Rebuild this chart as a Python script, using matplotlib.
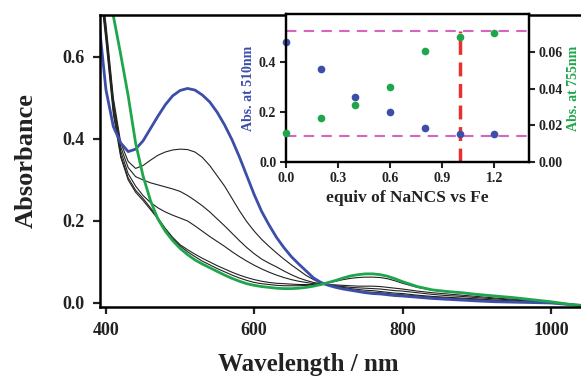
import matplotlib
matplotlib.use("Agg")
import matplotlib.pyplot as plt
import numpy as np

plt.rcParams['font.family'] = ['Liberation Serif', 'DejaVu Serif']
plt.rcParams['font.weight'] = 'bold'

## spectra (wavelength in nm, absorbance)
wavelength = [392, 400, 410, 420, 430, 440, 450, 460, 470, 480, 490, 500, 510, 520,
              530, 540, 550, 560, 570, 580, 590, 600, 610, 620, 630, 640, 650, 660,
              670, 680, 690, 700, 710, 720, 730, 740, 750, 760, 770, 780, 790, 800,
              820, 840, 860, 880, 900, 925, 950, 975, 1000, 1020, 1043]

abs_0eq = [0.66, 0.52, 0.43, 0.39, 0.369, 0.375, 0.395, 0.425, 0.455, 0.483, 0.505, 0.518, 0.523, 0.519,
           0.507, 0.490, 0.465, 0.434, 0.398, 0.356, 0.310, 0.264, 0.223, 0.190, 0.160, 0.135, 0.113, 0.095,
           0.078, 0.061, 0.050, 0.043, 0.038, 0.034, 0.031, 0.028, 0.025, 0.023, 0.022, 0.020, 0.018, 0.017,
           0.014, 0.011, 0.009, 0.007, 0.005, 0.003, 0.002, 0.001, 0.000, -0.003, -0.006]

abs_02eq = [0.80, 0.68, 0.50, 0.39, 0.345, 0.328, 0.335, 0.348, 0.360, 0.368, 0.373, 0.375, 0.374, 0.368,
            0.355, 0.335, 0.310, 0.285, 0.255, 0.225, 0.198, 0.175, 0.155, 0.138, 0.122, 0.107, 0.093, 0.080,
            0.067, 0.057, 0.048, 0.043, 0.040, 0.036, 0.033, 0.030, 0.027, 0.026, 0.025, 0.023, 0.021, 0.020,
            0.017, 0.014, 0.012, 0.010, 0.008, 0.006, 0.004, 0.002, 0.000, -0.003, -0.006]

abs_04eq = [0.80, 0.67, 0.49, 0.38, 0.33, 0.308, 0.300, 0.293, 0.288, 0.283, 0.278, 0.272, 0.262, 0.250,
            0.237, 0.222, 0.205, 0.188, 0.170, 0.152, 0.135, 0.120, 0.107, 0.097, 0.088, 0.078, 0.069, 0.061,
            0.055, 0.050, 0.047, 0.044, 0.041, 0.038, 0.035, 0.033, 0.031, 0.030, 0.028, 0.026, 0.024, 0.023,
            0.019, 0.016, 0.014, 0.012, 0.010, 0.007, 0.005, 0.003, 0.001, -0.002, -0.006]

abs_06eq = [0.79, 0.66, 0.48, 0.37, 0.315, 0.285, 0.262, 0.245, 0.232, 0.222, 0.214, 0.207, 0.200, 0.188,
            0.175, 0.162, 0.150, 0.138, 0.125, 0.113, 0.102, 0.092, 0.083, 0.075, 0.068, 0.062, 0.057, 0.053,
            0.050, 0.047, 0.046, 0.044, 0.042, 0.040, 0.038, 0.037, 0.036, 0.035, 0.034, 0.032, 0.030, 0.029,
            0.025, 0.021, 0.018, 0.016, 0.013, 0.010, 0.007, 0.004, 0.001, -0.002, -0.006]

abs_08eq = [0.78, 0.65, 0.47, 0.36, 0.305, 0.275, 0.255, 0.232, 0.208, 0.182, 0.160, 0.142, 0.130, 0.119,
            0.109, 0.100, 0.091, 0.083, 0.075, 0.068, 0.062, 0.057, 0.053, 0.050, 0.048, 0.047, 0.046, 0.045,
            0.045, 0.045, 0.045, 0.045, 0.044, 0.043, 0.042, 0.041, 0.041, 0.041, 0.040, 0.038, 0.036, 0.034,
            0.029, 0.025, 0.022, 0.019, 0.016, 0.012, 0.009, 0.006, 0.002, -0.002, -0.006]

abs_10eq = [0.77, 0.64, 0.46, 0.355, 0.30, 0.27, 0.25, 0.228, 0.205, 0.178, 0.157, 0.139, 0.125, 0.113,
            0.102, 0.093, 0.084, 0.076, 0.068, 0.061, 0.055, 0.050, 0.047, 0.045, 0.043, 0.042, 0.042, 0.042,
            0.043, 0.044, 0.046, 0.049, 0.053, 0.057, 0.060, 0.062, 0.063, 0.063, 0.062, 0.059, 0.054, 0.048,
            0.038, 0.031, 0.027, 0.024, 0.020, 0.016, 0.012, 0.008, 0.003, -0.002, -0.006]

abs_12eq = [0.88, 0.80, 0.70, 0.605, 0.505, 0.39, 0.31, 0.25, 0.205, 0.175, 0.152, 0.133, 0.118, 0.105,
            0.095, 0.086, 0.077, 0.068, 0.060, 0.053, 0.047, 0.043, 0.040, 0.038, 0.036, 0.035, 0.035, 0.036,
            0.038, 0.041, 0.045, 0.050, 0.055, 0.061, 0.066, 0.069, 0.071, 0.071, 0.069, 0.065, 0.059, 0.052,
            0.040, 0.032, 0.028, 0.025, 0.021, 0.017, 0.013, 0.008, 0.003, -0.002, -0.007]

## titration inset
equiv = [0.0, 0.2, 0.4, 0.6, 0.8, 1.0, 1.2]
abs_510 = [0.477, 0.371, 0.259, 0.199, 0.135, 0.112, 0.111]
abs_755 = [0.0156, 0.0238, 0.0309, 0.0407, 0.0607, 0.0680, 0.0701]
ref_high = 0.521
ref_low = 0.104
equiv_point = 1.0

blue = '#3b4ea8'
green = '#1fa64c'
W, H = 581, 391

fig = plt.figure(figsize=(W / 100, H / 100), dpi=100)
ax = fig.add_axes([100 / W, 1 - 307 / H, (W - 100) / W + 0.003, (307 - 15) / H])

for a in [abs_02eq, abs_04eq, abs_06eq, abs_08eq, abs_10eq]:
    ax.plot(wavelength, a, color='#222222', lw=0.8)
ax.plot(wavelength, abs_0eq, color=blue, lw=2.0)
ax.plot(wavelength, abs_12eq, color=green, lw=2.0)

ax.set_xlim(392, 1043)
ax.set_ylim(-0.0098, 0.702)
ax.set_xticks([400, 600, 800, 1000])
ax.set_yticks([0.0, 0.2, 0.4, 0.6])
ax.set_yticklabels(['0.0', '0.2', '0.4', '0.6'])
ax.spines['right'].set_visible(False)
for s in ['left', 'bottom', 'top']:
    ax.spines[s].set_linewidth(1.8)
ax.tick_params(direction='out', length=5, width=1.6, labelsize=13, colors='#222222', pad=6)

fig.text(26 / W, 1 - 161 / H, 'Absorbance', rotation=90, ha='center', va='center',
         fontsize=19, fontweight='bold', color='#222222')
fig.text(308 / W, 1 - 364 / H, 'Wavelength / nm', ha='center', va='center',
         fontsize=18, fontweight='bold', color='#222222')

## inset
ins = fig.add_axes([286 / W, 1 - 162 / H, (529 - 286) / W, (162 - 14) / H])
ins.set_facecolor('white')
ins.axhline(ref_high, color='#d466c0', lw=1.5, dashes=(5, 3.5))
ins.axhline(ref_low, color='#d466c0', lw=1.5, dashes=(5, 3.5))
ins.vlines(equiv_point, 0, ref_high, color='#e8312f', lw=2.5, linestyles=(0, (4, 2.2)))
ins.plot(equiv, abs_510, 'o', color=blue, ms=4.5, clip_on=False, zorder=5)
ins.set_xlim(0, 1.4)
ins.set_ylim(0, 0.59)
ins.set_xticks([0.0, 0.3, 0.6, 0.9, 1.2])
ins.set_yticks([0.0, 0.2, 0.4])
ins.set_yticklabels(['0.0', '0.2', '0.4'])
for s in ins.spines.values():
    s.set_linewidth(1.6)
ins.tick_params(direction='out', length=4, width=1.5, labelsize=10, colors='#222222', pad=3)
ins.set_xlabel('equiv of NaNCS vs Fe', fontsize=12.5, fontweight='bold', color='#222222', labelpad=4)
ins.set_ylabel('Abs. at 510nm', fontsize=10, fontweight='bold', color=blue, labelpad=3)

ins2 = ins.twinx()
ins2.plot(equiv, abs_755, 'o', color=green, ms=4.5, clip_on=False, zorder=5)
ins2.set_ylim(0, 0.0807)
ins2.set_yticks([0.0, 0.02, 0.04, 0.06])
ins2.set_yticklabels(['0.00', '0.02', '0.04', '0.06'])
for s in ins2.spines.values():
    s.set_linewidth(1.6)
ins2.tick_params(direction='out', length=4, width=1.5, labelsize=10, colors='#222222', pad=3)
ins2.set_ylabel('Abs. at 755nm', fontsize=10, fontweight='bold', color=green, labelpad=3)

fig.savefig('out.png', dpi=100)
